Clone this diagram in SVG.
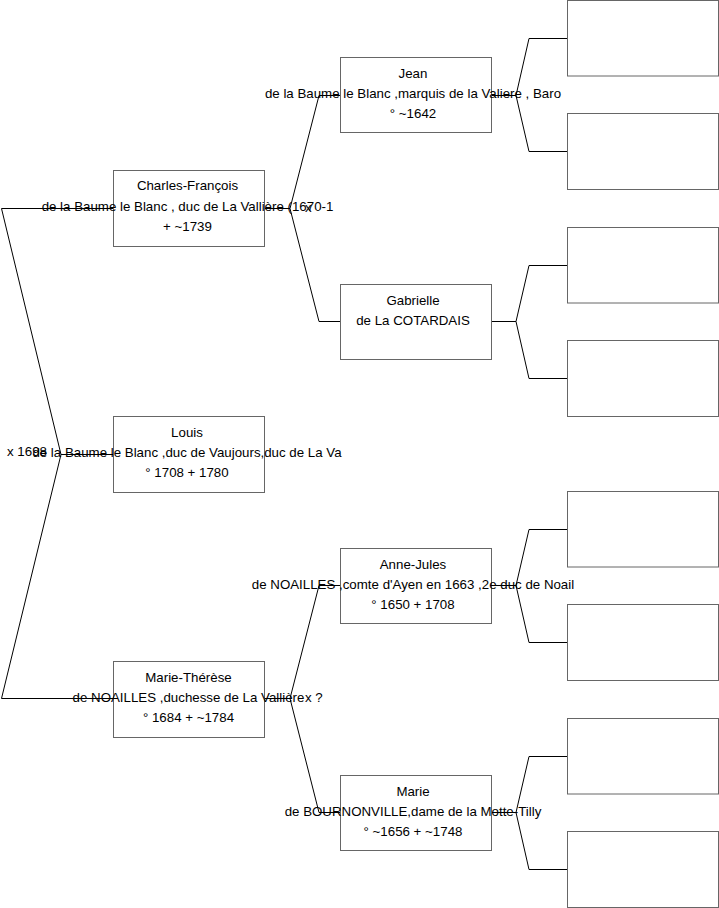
<svg xmlns="http://www.w3.org/2000/svg" width="719" height="908" viewBox="0 0 719 908">
<style>
.box{fill:#fff;stroke:#666;stroke-width:1}
.c{fill:none;stroke:#000;stroke-width:1}
text{font-family:"Liberation Sans",Arial,sans-serif;font-size:13.3px;fill:#000}
.t1{text-anchor:middle}
</style>
<rect x="0" y="0" width="719" height="908" fill="#fff"/>
<g id="connectors">
<path class="c" d="M114,208.5 H1.5 L61,454.5 L1.5,698.5 H114 M61,454.5 H114"/>
<path class="c" d="M264.5,208.5 H290 L319,95.5 H340.5 M290,208.5 L319,321.5 H340.5"/>
<path class="c" d="M264.5,698.5 H290 L319,585.5 H340.5 M290,698.5 L319,812.5 H340.5"/>
<path class="c" d="M491.5,95.5 H516 L529,38.5 H567.5 M516,95.5 L529,151.5 H567.5"/>
<path class="c" d="M491.5,321.5 H516 L529,265.5 H567.5 M516,321.5 L529,378.5 H567.5"/>
<path class="c" d="M491.5,585.5 H516 L529,529.5 H567.5 M516,585.5 L529,642.5 H567.5"/>
<path class="c" d="M491.5,812.5 H516 L529,756.5 H567.5 M516,812.5 L529,869.5 H567.5"/>
</g>
<g id="n-charles"><rect class="box" x="113.5" y="170.5" width="151" height="76"/></g>
<g id="n-louis"><rect class="box" x="113.5" y="416.5" width="151" height="76"/></g>
<g id="n-marie-therese"><rect class="box" x="113.5" y="661.5" width="151" height="76"/></g>
<g id="n-jean"><rect class="box" x="340.5" y="57.5" width="151" height="75"/></g>
<g id="n-gabrielle"><rect class="box" x="340.5" y="284.5" width="151" height="75"/></g>
<g id="n-anne-jules"><rect class="box" x="340.5" y="548.5" width="151" height="75"/></g>
<g id="n-marie"><rect class="box" x="340.5" y="775.5" width="151" height="75"/></g>
<g id="n-g3-1"><rect class="box" x="567.5" y="0.5" width="151" height="75.5"/></g>
<g id="n-g3-2"><rect class="box" x="567.5" y="113.5" width="151" height="76"/></g>
<g id="n-g3-3"><rect class="box" x="567.5" y="227.5" width="151" height="75.5"/></g>
<g id="n-g3-4"><rect class="box" x="567.5" y="340.5" width="151" height="76"/></g>
<g id="n-g3-5"><rect class="box" x="567.5" y="491.5" width="151" height="75.5"/></g>
<g id="n-g3-6"><rect class="box" x="567.5" y="604.5" width="151" height="76"/></g>
<g id="n-g3-7"><rect class="box" x="567.5" y="718.5" width="151" height="75.5"/></g>
<g id="n-g3-8"><rect class="box" x="567.5" y="831.5" width="151" height="76"/></g>
<g id="texts">
<text class="t1" x="187.5" y="190">Charles-François</text>
<text class="t1" x="187.5" y="211">de la Baume le Blanc , duc de La Vallière (1670-1</text>
<text class="t1" x="187.5" y="231">+ ~1739</text>
<text x="305" y="212">x</text>
<text class="t1" x="187" y="437">Louis</text>
<text class="t1" x="187" y="457">de la Baume le Blanc ,duc de Vaujours,duc de La Va</text>
<text class="t1" x="187" y="477">° 1708 + 1780</text>
<text x="7" y="456">x 1698</text>
<text class="t1" x="188.5" y="682">Marie-Thérèse</text>
<text class="t1" x="188.5" y="702">de NOAILLES ,duchesse de La Vallière</text>
<text class="t1" x="188.5" y="722">° 1684 + ~1784</text>
<text x="305" y="702">x ?</text>
<text class="t1" x="413" y="78">Jean</text>
<text class="t1" x="413" y="98">de la Baume le Blanc ,marquis de la Valiere , Baro</text>
<text class="t1" x="413" y="118">° ~1642</text>
<text class="t1" x="413" y="305">Gabrielle</text>
<text class="t1" x="413" y="325">de La COTARDAIS</text>
<text class="t1" x="413" y="569">Anne-Jules</text>
<text class="t1" x="413" y="589">de NOAILLES ,comte d'Ayen en 1663 ,2e duc de Noail</text>
<text class="t1" x="413" y="609">° 1650 + 1708</text>
<text class="t1" x="413" y="796">Marie</text>
<text class="t1" x="413" y="816">de BOURNONVILLE,dame de la Motte-Tilly</text>
<text class="t1" x="413" y="836">° ~1656 + ~1748</text>
</g>
</svg>
